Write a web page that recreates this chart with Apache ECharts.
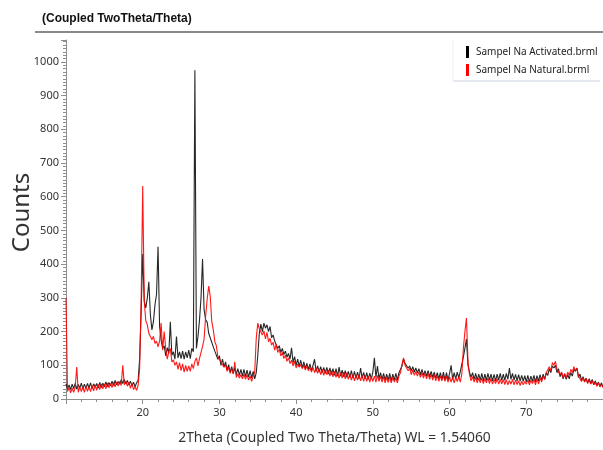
<!DOCTYPE html>
<html>
<head>
<meta charset="utf-8">
<script src="https://cdn.jsdelivr.net/npm/echarts@6/dist/echarts.min.js"></script>
<style>
html,body{margin:0;padding:0;background:#fff;}
#chart{width:603px;height:450px;}
</style>
</head>
<body>
<div id="chart"></div>
<script>
// sampling grid: 2Theta from 10.0 to 80.0, step 0.2 (one group of 5 per degree)
var xStart = 10;
var xStep = 0.2;
var seriesNames = ['Sampel Na Activated.brml', 'Sampel Na Natural.brml'];
var xTicks = [20, 30, 40, 50, 60, 70];
var yTicks = [0, 100, 200, 300, 400, 500, 600, 700, 800, 900, 1000];

var activated = [
 45,30,42,28,44,  31,46,29,43,33,  47,30,44,32,46,  33,48,31,45,35,  46,32,49,34,47,
 36,51,37,49,39,  53,40,55,42,52,  44,57,46,58,45,  55,41,53,39,50,  36,48,55,120,260,
 430,290,270,300,348,  250,205,230,280,310,  452,215,175,150,158,  128,152,135,229,130,  140,118,185,122,140,
 120,142,118,140,122,  145,120,150,140,975,  150,185,234,300,415,  265,235,228,195,200,  168,165,142,140,118,
 128,100,118,95,110,  86,102,80,96,76,  92,72,90,70,88,  68,88,66,86,65,  84,62,82,60,78,
 130,195,222,200,225,  210,220,200,215,182,  190,172,170,150,158,  138,150,132,142,124,  135,118,152,108,126,
 100,118,96,115,92,  110,90,106,88,104,  84,100,118,82,98,  80,96,78,94,76,  94,74,92,72,90,
 70,90,68,95,68,  86,66,84,64,82,  64,84,62,82,62,  80,60,92,62,79,  60,78,58,77,60,
 80,122,64,98,60,  78,58,76,56,74,  56,76,54,74,56,  76,56,78,82,98,  118,105,108,92,98,
 84,96,80,92,78,  90,72,88,70,84,  68,84,66,82,64,  80,62,78,60,78,  58,80,56,78,56,
 76,100,58,78,60,  80,62,82,86,125,  150,178,100,80,64,  78,58,76,56,74,  56,76,54,74,55,
 76,56,74,54,73,  54,74,56,76,55,  74,55,76,58,92,  58,76,56,73,54,  72,53,70,52,69,
 51,70,50,68,52,  70,51,69,53,72,  55,74,58,78,70,  90,78,98,92,100,  78,90,66,78,60,
 74,58,72,60,78,  68,88,82,92,64,  74,55,66,52,62,  48,60,46,58,42,  54,40,50,38,48,
 35
];

var natural = [
 300,22,34,18,32,  20,34,95,20,36,  22,35,20,38,23,  36,22,40,24,42,  26,43,28,45,30,
 45,30,48,33,46,  34,49,36,51,38,  52,40,100,42,52,  38,50,32,46,28,  36,26,40,90,300,
 632,290,232,220,195,  198,176,186,165,172,  155,172,225,145,200,  150,118,140,150,110,  116,100,110,88,108,
 84,104,80,100,82,  98,82,104,90,112,  122,98,120,125,156,  178,245,295,335,305,  230,205,170,158,125,
 130,110,115,94,102,  82,94,76,90,74,  110,64,74,62,72,  60,74,58,72,56,  68,52,68,80,180,
 225,208,212,190,202,  178,198,170,180,160,  168,145,162,138,148,  128,138,120,130,112,  122,105,115,98,112,
 92,104,94,102,90,  100,86,98,84,94,  80,94,78,92,76,  90,72,88,70,86,  72,86,68,84,66,
 82,64,80,62,78,  62,80,60,78,58,  74,56,72,54,70,  56,72,54,70,52,  70,52,68,50,66,
 52,68,50,70,52,  67,50,66,48,64,  49,66,48,64,50,  62,48,68,78,102,  122,100,104,84,92,
 72,86,70,82,68,  80,64,78,62,76,  60,76,58,74,56,  72,54,70,52,68,  54,70,52,68,50,
 66,50,64,48,64,  52,66,50,75,150,  200,240,110,72,54,  66,50,64,48,62,  48,62,46,60,48,
 62,46,60,44,58,  46,60,44,58,45,  58,43,57,42,55,  44,58,42,56,43,  54,40,53,42,52,
 44,56,42,55,46,  58,42,60,44,62,  50,68,58,78,74,  96,82,108,100,112,  88,92,72,80,62,
 76,62,80,70,88,  78,96,84,92,68,  72,52,64,50,60,  46,58,44,54,42,  50,38,48,36,44,
 34
];

function toPairs(values) {
  return values.map(function (v, i) {
    return [+(xStart + i * xStep).toFixed(1), v];
  });
}

var chart = echarts.init(document.getElementById('chart'), null, {renderer: 'canvas'});
var axisColor = '#8e8e8e';
chart.setOption({
  animation: false,
  backgroundColor: '#ffffff',
  title: {
    text: '(Coupled TwoTheta/Theta)',
    left: 37,
    top: 8,
    textStyle: {fontFamily: 'Liberation Sans', fontSize: 12, fontWeight: 'bold', color: '#111'}
  },
  graphic: [
    {type: 'line', shape: {x1: 35, y1: 32, x2: 603, y2: 32}, style: {stroke: '#8a8a8a', lineWidth: 2}},
    {type: 'line', shape: {x1: 453, y1: 81, x2: 600, y2: 81}, style: {stroke: '#c9d2de', lineWidth: 1}},
    {type: 'line', shape: {x1: 453, y1: 40, x2: 453, y2: 81}, style: {stroke: '#eef0f3', lineWidth: 1}}
  ],
  legend: {
    orient: 'vertical',
    left: 461,
    top: 41,
    itemWidth: 3,
    itemHeight: 12,
    itemGap: 6,
    icon: 'rect',
    data: seriesNames,
    textStyle: {fontFamily: 'Noto Sans', fontSize: 10, color: '#222', padding: [0, 0, 0, 2]}
  },
  grid: {left: 66, right: 0, top: 40, bottom: 51, containLabel: false, outerBoundsMode: 'none'},
  xAxis: {
    type: 'value',
    min: 10,
    max: 80,
    interval: 10,
    name: '2Theta (Coupled Two Theta/Theta) WL = 1.54060',
    nameLocation: 'middle',
    nameGap: 32,
    nameMoveOverlap: false,
    nameTextStyle: {fontFamily: 'Noto Sans', fontSize: 13.8, color: '#333'},
    axisLine: {lineStyle: {color: axisColor, width: 1}},
    axisTick: {show: true, length: 5, lineStyle: {color: axisColor}},
    minorTick: {show: true, splitNumber: 5, length: 3, lineStyle: {color: axisColor}},
    axisLabel: {
      fontFamily: 'Noto Sans', fontSize: 11, color: '#333', margin: 8,
      showMinLabel: false, showMaxLabel: false,
      formatter: function (v) { return xTicks.indexOf(v) >= 0 ? String(v) : ''; }
    },
    splitLine: {show: false}
  },
  yAxis: {
    type: 'value',
    min: 0,
    max: 1065,
    interval: 100,
    name: 'Counts',
    nameLocation: 'middle',
    nameRotate: 90,
    nameGap: 32,
    nameMoveOverlap: false,
    nameTextStyle: {fontFamily: 'Noto Sans', fontSize: 24, color: '#333', padding: [0, 0, 0, 14]},
    axisLine: {show: true, lineStyle: {color: axisColor, width: 1}},
    axisTick: {show: true, length: 5, lineStyle: {color: axisColor}},
    minorTick: {show: true, splitNumber: 10, length: 3, lineStyle: {color: axisColor}},
    axisLabel: {
      fontFamily: 'Noto Sans', fontSize: 11, color: '#333', margin: 7,
      showMaxLabel: false,
      formatter: function (v) { return yTicks.indexOf(v) >= 0 ? String(v) : ''; }
    },
    splitLine: {show: false}
  },
  series: [
    {
      name: seriesNames[0], type: 'line', data: toPairs(activated),
      showSymbol: false, symbol: 'none', color: '#000000',
      lineStyle: {color: '#000000', width: 1.1, opacity: 0.85}, z: 2
    },
    {
      name: seriesNames[1], type: 'line', data: toPairs(natural),
      showSymbol: false, symbol: 'none', color: '#ff0000',
      lineStyle: {color: '#ff0000', width: 1.1, opacity: 0.9}, z: 3
    }
  ]
});
</script>
</body>
</html>
